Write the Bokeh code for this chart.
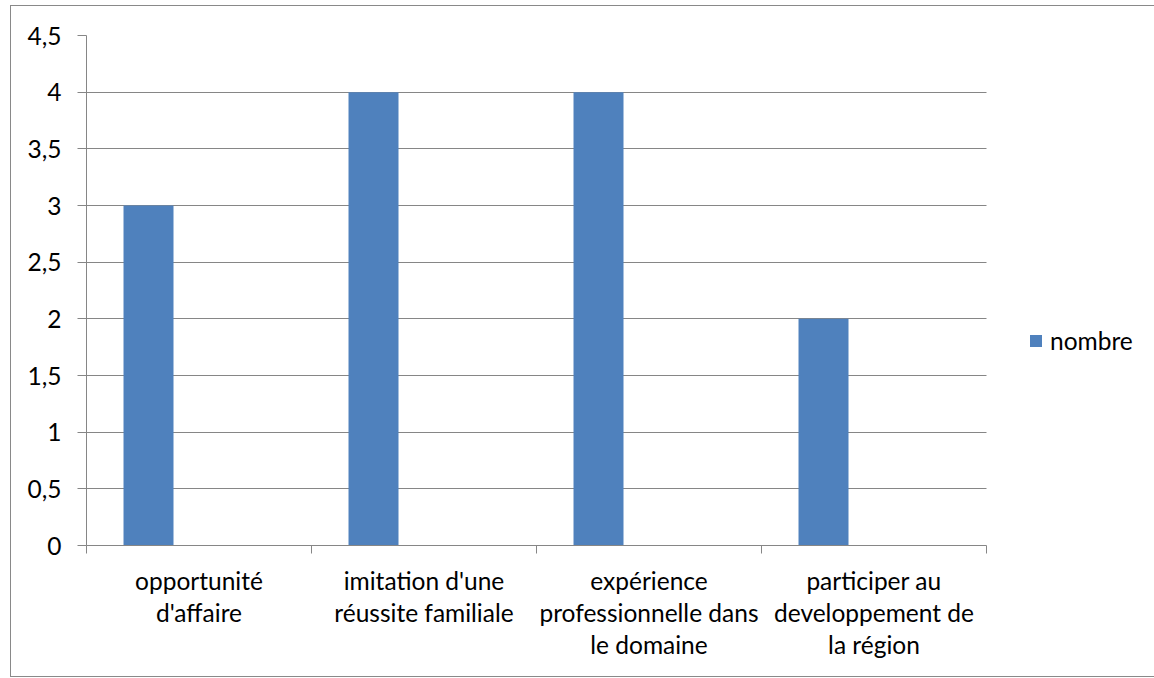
from bokeh.plotting import figure
from bokeh.models import (Range1d, FixedTicker, CustomJSTickFormatter, Legend,
                          LegendItem, ColumnDataSource, InlineStyleSheet,
                          BoxAnnotation)
from bokeh.embed import file_html
from bokeh.resources import INLINE

# Data
categories = [
    "opportunité\nd'affaire",
    "imitation d'une\nréussite familiale",
    "expérience\nprofessionnelle dans\nle domaine",
    "participer au\ndeveloppement de\nla région",
]
nombre = [3, 4, 4, 2]
series_name = "nombre"
y_ticks = [0, 0.5, 1, 1.5, 2, 2.5, 3, 3.5, 4, 4.5]

FONT = "Lato"
FONT_SIZE = "24.5px"
GREY = "#868686"
BORDER = "#898989"
BLUE = "#4F81BD"

W, H = 1154, 678
LEFT, TOP, BOTTOM = 86, 35, 133
SLOT_PX = 225  # width of one category slot

# bars sit in the left part of each category slot
BAR_OFFSET = -0.2244
BAR_WIDTH = 0.2222

n = len(categories)
idx = list(range(n))
src = ColumnDataSource(dict(x=[i + BAR_OFFSET for i in idx], top=nombre))

# the frame runs to the right edge so the legend can live inside it;
# the category slots keep their width through the range span
x_end = -0.5 + (W - LEFT) / SLOT_PX

p = figure(width=W, height=H,
           x_range=Range1d(-0.5, x_end),
           y_range=Range1d(0, max(y_ticks)),
           output_backend="svg", toolbar_location=None,
           min_border_left=LEFT, min_border_right=0,
           min_border_top=TOP, min_border_bottom=BOTTOM,
           background_fill_color=None, border_fill_color=None)
p.outline_line_color = None

# chart-area border drawn behind the transparent canvas
p.stylesheets = [InlineStyleSheet(css=f"""
:host {{
  background:
    linear-gradient({BORDER}, {BORDER}) 10px 5px / 1144px 1px no-repeat,
    linear-gradient({BORDER}, {BORDER}) 10px 676px / 1144px 1px no-repeat,
    linear-gradient({BORDER}, {BORDER}) 10px 5px / 1px 672px no-repeat,
    #ffffff;
}}
""")]

# value axis
ya = p.yaxis[0]
ya.ticker = FixedTicker(ticks=y_ticks, minor_ticks=[])
ya.formatter = CustomJSTickFormatter(code="return String(tick).replace('.', ',');")
ya.axis_line_color = GREY
ya.major_tick_line_color = GREY
ya.major_tick_in = 0
ya.major_tick_out = 9
ya.minor_tick_line_color = None
ya.major_label_standoff = 16
ya.major_label_text_font = FONT
ya.major_label_text_font_size = FONT_SIZE
ya.major_label_text_color = "black"

# category axis: labels at slot centres, tick marks at slot boundaries
xa = p.xaxis[0]
xa.bounds = (-0.5, n - 0.5)
xa.ticker = FixedTicker(ticks=idx, minor_ticks=[i - 0.5 for i in range(n + 1)])
xa.major_label_overrides = {i: c for i, c in enumerate(categories)}
xa.major_tick_line_color = None
xa.major_tick_in = 0
xa.major_tick_out = 0
xa.minor_tick_in = 0
xa.minor_tick_out = 8
xa.minor_tick_line_color = GREY
xa.axis_line_color = GREY
xa.major_label_standoff = 12
xa.major_label_text_font = FONT
xa.major_label_text_font_size = FONT_SIZE
xa.major_label_text_color = "black"
xa.major_label_text_line_height = 1.105

p.xgrid.visible = False
p.ygrid.grid_line_color = GREY
p.ygrid.grid_line_width = 1

# blank out the gridlines to the right of the last category slot
p.add_layout(BoxAnnotation(left=n - 0.5, fill_color="white", fill_alpha=1,
                           line_color=None, level="underlay"))

bars = p.vbar(x="x", top="top", bottom=0, width=BAR_WIDTH, source=src,
              fill_color=BLUE, line_color=None)

legend = Legend(items=[LegendItem(label=series_name, renderers=[bars])],
                location=(942, 190), padding=0, margin=0, spacing=0,
                glyph_width=15, glyph_height=15, label_standoff=7,
                label_text_font=FONT, label_text_font_size=FONT_SIZE,
                label_text_color="black",
                border_line_color=None, background_fill_alpha=0)
p.add_layout(legend)

open("out.html", "w").write(file_html(p, INLINE))
